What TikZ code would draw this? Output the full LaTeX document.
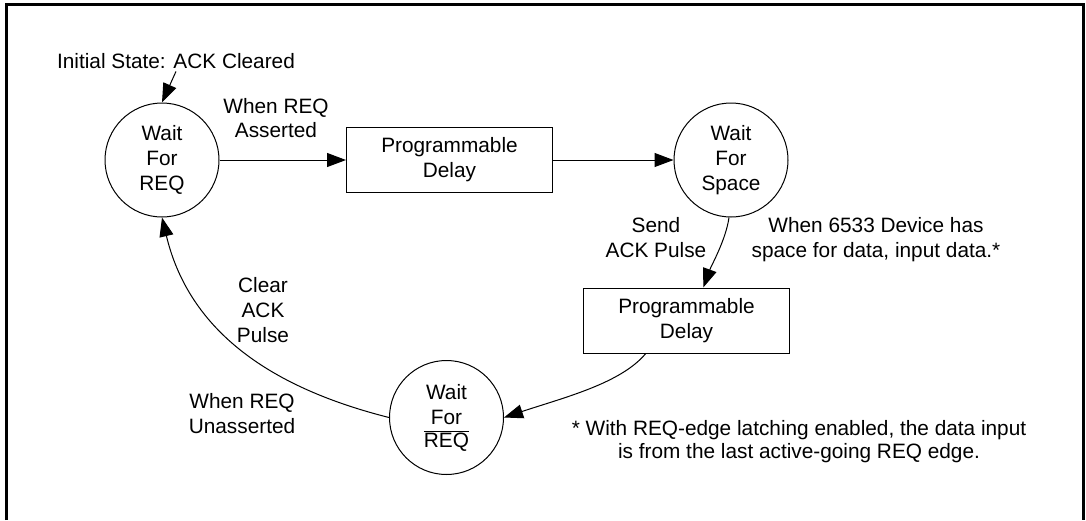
\documentclass[tikz,border=0pt]{standalone}
\usepackage{fontspec}
\setmainfont{Liberation Sans}
\usetikzlibrary{arrows.meta}

\begin{document}
\begin{tikzpicture}[x=1pt,y=-1pt,
  font=\fontsize{20.8}{25}\selectfont,
  state/.style={circle,draw,line width=1pt,minimum size=114pt,inner sep=0pt,align=center},
  delaybox/.style={rectangle,draw,line width=1pt,minimum width=206pt,minimum height=65pt,inner sep=0pt,align=center},
  lbl/.style={align=center,inner sep=0pt},
  arr/.style={line width=1pt,-{Triangle[length=19pt,width=14pt]}}]
  \useasboundingbox (0,0) rectangle (1086,520);
  % frame, open at the bottom
  \draw [line width=2.5pt] (6.5,520) -- (6.5,4.5) -- (1083.5,4.5) -- (1083.5,520);

  % states and delays
  \node [state] (reqwait) at (162,160) {Wait\\For\\REQ};
  \node [delaybox] (delayA) at (449.5,160) {Programmable\\Delay};
  \node [state] (spacewait) at (731,160) {Wait\\For\\Space};
  \node [delaybox] (delayB) at (686.5,320.5) {Programmable\\Delay};
  \node [state] (notreqwait) at (446.5,417.5) {Wait\\For\\[-2pt]$\overline{\hbox{REQ}}$};

  % labels
  \node [anchor=base,inner sep=3pt] (initlbl) at (176,68) {Initial State: ACK Cleared};
  \node [lbl] (assertlbl) at (276,118.5) {When REQ\\[-1pt]Asserted};
  \node [lbl] (sendlbl) at (656,237.5) {Send\\ACK Pulse};
  \node [lbl] (spacelbl) at (876,239.5) {When 6533 Device has\\space for data, input data.*};
  \node [lbl] (clearlbl) at (263,310.5) {Clear\\ACK\\Pulse};
  \node [lbl] (unassertlbl) at (242,414) {When REQ\\Unasserted};
  \node [lbl] (notelbl) at (799,442) {* With REQ-edge latching enabled, the data input\\[-2pt]is from the last active-going REQ edge.};

  % transitions
  \draw [arr] (initlbl.south) -- (reqwait.north);
  \draw [arr] (reqwait) -- (delayA);
  \draw [arr] (delayA) -- (spacewait);
  \draw [arr] (spacewait.268) .. controls +(-3,22) and +(8,-22) .. (delayB.63);
  \draw [arr] (delayB.219) .. controls +(-25,30) and +(60,-20) .. (notreqwait.east);
  \draw [arr] (notreqwait.west) .. controls +(-107,-27) and +(29,121) .. (reqwait.south);
\end{tikzpicture}
\end{document}
